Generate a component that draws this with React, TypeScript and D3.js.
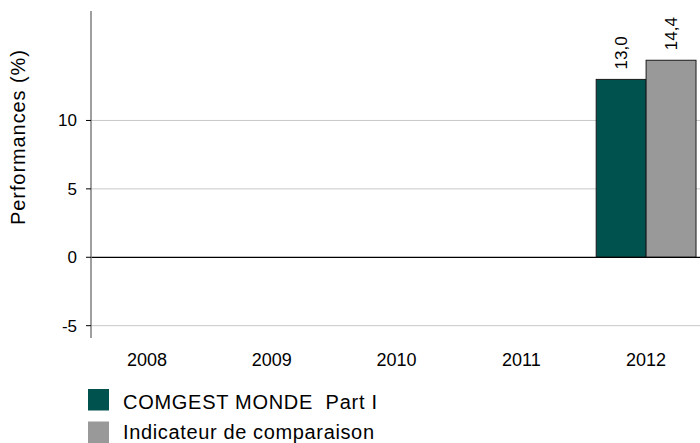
import React from "react";
import * as d3 from "d3";

const categories = ["2008", "2009", "2010", "2011", "2012"];
const seriesNames = ["COMGEST MONDE  Part I", "Indicateur de comparaison"];
const fundValues: (number | null)[] = [null, null, null, null, 13.0];
const indexValues: (number | null)[] = [null, null, null, null, 14.4];
const yTicks = [-5, 0, 5, 10];
const seriesColors = ["#00524f", "#999999"];

const width = 700;
const height = 443;
const font = "Arial, 'Liberation Sans', sans-serif";
// widths of the legend texts in the original
const legendLengths = [254, 251];

export default function App() {
  const x = d3.scaleBand<string>().domain(categories).range([84.5, 708.5]).padding(0);
  const x1 = d3
    .scaleBand<string>()
    .domain(seriesNames)
    .range([0, x.bandwidth()])
    .paddingInner(0)
    .paddingOuter(0.25);
  const y = d3.scaleLinear().domain([-5.9, 18]).range([338, 11]);

  const axisX = 91;
  const series = [fundValues, indexValues];
  const fmt = (v: number) => v.toFixed(1).replace(".", ",");

  return (
    <svg
      width={width}
      height={height}
      style={{ position: "absolute", left: 0, top: 0, background: "#fff" }}
      fontFamily={font}
    >
      {/* gridlines */}
      {yTicks
        .filter((t) => t !== 0)
        .map((t) => (
          <line
            key={"g" + t}
            x1={axisX}
            x2={width}
            y1={y(t)}
            y2={y(t)}
            stroke="#c8c8c8"
            strokeWidth={1}
          />
        ))}

      {/* bars */}
      {series.map((vals, si) =>
        vals.map((v, i) => {
          if (v == null) return null;
          const bx = (x(categories[i]) ?? 0) + (x1(seriesNames[si]) ?? 0);
          const top = y(Math.max(0, v));
          const h = Math.abs(y(v) - y(0));
          return (
            <g key={`b${si}-${i}`}>
              <rect
                x={bx}
                y={top}
                width={x1.bandwidth()}
                height={h}
                fill={seriesColors[si]}
                stroke="#1a1a1a"
                strokeWidth={1}
              />
              <text
                transform={`translate(${bx + x1.bandwidth() / 2},${y(v) - 10}) rotate(-90)`}
                dy="0.35em"
                fontSize={17}
                fill="#000"
              >
                {fmt(v)}
              </text>
            </g>
          );
        })
      )}

      {/* zero line */}
      <line x1={axisX} x2={width} y1={y(0)} y2={y(0)} stroke="#000" strokeWidth={1.2} />

      {/* y axis */}
      <line x1={axisX} x2={axisX} y1={11} y2={338} stroke="#7f7f7f" strokeWidth={1.5} />
      {yTicks.map((t) => (
        <g key={"t" + t}>
          <line x1={axisX - 5} x2={axisX} y1={y(t)} y2={y(t)} stroke="#000" strokeWidth={1} />
          <text x={77} y={y(t)} dy="0.35em" textAnchor="end" fontSize={17} fill="#000">
            {t}
          </text>
        </g>
      ))}
      <text
        transform={`translate(18,137.5) rotate(-90)`}
        dy="0.35em"
        textAnchor="middle"
        fontSize={20}
        textLength={175}
        lengthAdjust="spacing"
        fill="#000"
      >
        Performances (%)
      </text>

      {/* x labels */}
      {categories.map((c) => (
        <text
          key={c}
          x={(x(c) ?? 0) + x.bandwidth() / 2}
          y={366}
          textAnchor="middle"
          fontSize={18}
          fill="#000"
        >
          {c}
        </text>
      ))}

      {/* legend */}
      {seriesNames.map((name, i) => (
        <g key={name} transform={`translate(88,${389 + i * 32.5})`}>
          <rect width={21} height={21.5} fill={seriesColors[i]} />
          <text
            x={35}
            y={19.5 - i * 2}
            fontSize={20}
            textLength={legendLengths[i]}
            lengthAdjust="spacing"
            style={{ whiteSpace: "pre" }}
            fill="#000"
          >
            {name}
          </text>
        </g>
      ))}
    </svg>
  );
}
